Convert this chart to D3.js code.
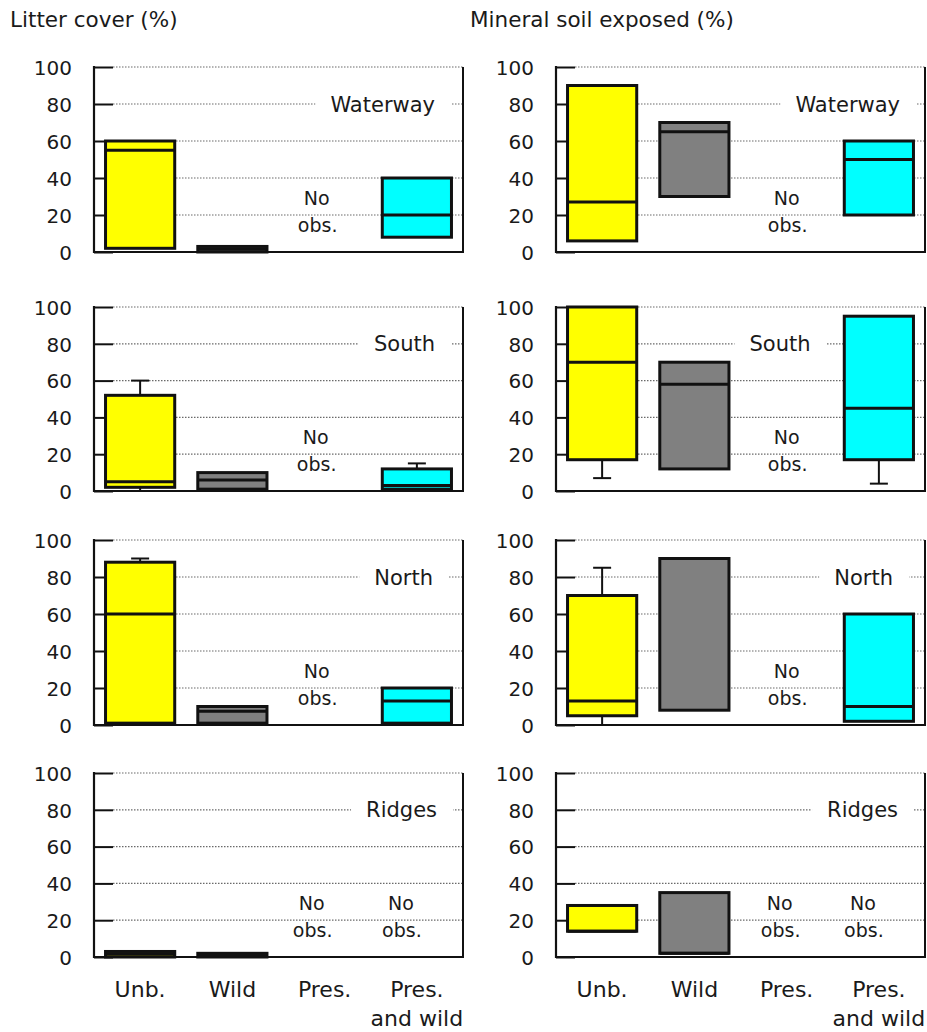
<!DOCTYPE html>
<html>
<head>
<meta charset="utf-8">
<script src="https://cdn.jsdelivr.net/npm/d3@7"></script>
<style>
  html, body { margin: 0; padding: 0; background: #fff; }
  svg { display: block; }
  text { font-family: "DejaVu Sans", sans-serif; fill: #1a1a1a; }
</style>
</head>
<body>
<svg id="chart" width="927" height="1032"></svg>
<script>
// ---------------- DATA ----------------
const categories = ["Unb.", "Wild", "Pres.", "Pres. and wild"];
const regions = ["Waterway", "South", "North", "Ridges"];
const measures = ["Litter cover (%)", "Mineral soil exposed (%)"];
const yTicks = [0, 20, 40, 60, 80, 100];
const seriesColors = ["#ffff00", "#808080", "#ffffff", "#00ffff"];

// rows = regions, columns = categories; null = no observations
const litterQ1     = [[2, 0, null, 8], [2, 1, null, 1], [1, 1, null, 1], [0, 0, null, null]];
const litterMedian = [[55, 1.5, null, 20], [5, 6, null, 3], [60, 7.5, null, 13], [1.5, 1, null, null]];
const litterQ3     = [[60, 3, null, 40], [52, 10, null, 12], [88, 10, null, 20], [3, 2, null, null]];
const litterMin    = [[null, null, null, null], [0, null, null, null], [null, null, null, null], [null, null, null, null]];
const litterMax    = [[null, null, null, null], [60, null, null, 15], [90, null, null, null], [null, null, null, null]];

const soilQ1     = [[6, 30, null, 20], [17, 12, null, 17], [5, 8, null, 2], [14, 2, null, null]];
const soilMedian = [[27, 65, null, 50], [70, 58, null, 45], [13, 90, null, 10], [14, 2, null, null]];
const soilQ3     = [[90, 70, null, 60], [100, 70, null, 95], [70, 90, null, 60], [28, 35, null, null]];
const soilMin    = [[null, null, null, null], [7, null, null, 4], [0, null, null, null], [null, null, null, null]];
const soilMax    = [[null, null, null, null], [null, null, null, null], [85, null, null, null], [null, null, null, null]];

// ---------------- LAYOUT ----------------
const colX = [94, 556];
const panelW = 369;
const rowY = [[67, 252], [307, 491], [540, 725], [773, 957]];
const stats = [
  { q1: litterQ1, med: litterMedian, q3: litterQ3, lo: litterMin, hi: litterMax },
  { q1: soilQ1, med: soilMedian, q3: soilQ3, lo: soilMin, hi: soilMax }
];
// region label placement per [column][row]
const labelPlace = [
  [{ a: "end", dx: -28 }, { a: "end", dx: -28 }, { a: "end", dx: -30 }, { a: "end", dx: -26 }],
  [{ a: "end", dx: -25 }, { a: "middle", x: 780 }, { a: "end", dx: -32 }, { a: "end", dx: -27 }]
];
// horizontal offsets of "No obs." text per column / row
const noObsDx = [[-8, -9, -8, -13, -16], [0, 0, 0, -7, -16]];

const svg = d3.select("#chart");

// column titles
measures.forEach((m, ci) => {
  svg.append("text")
    .attr("x", ci === 0 ? 10 : 470)
    .attr("y", 27)
    .attr("font-size", 21.5)
    .text(m);
});

measures.forEach((m, ci) => {
  const S = stats[ci];
  const x0 = colX[ci], x1 = x0 + panelW;
  regions.forEach((reg, ri) => {
    const g = svg.append("g");
    const y = d3.scaleLinear().domain([0, 100]).range([rowY[ri][1], rowY[ri][0]]);
    const xb = d3.scaleBand().domain(categories).range([x0, x1])
      .paddingInner(0.25).paddingOuter(0.125);
    const bw = xb.bandwidth();

    // dotted gridlines
    g.append("g").selectAll("line").data(yTicks.filter(t => t > 0)).join("line")
      .attr("x1", x0 + 19).attr("x2", x1)
      .attr("y1", d => y(d)).attr("y2", d => y(d))
      .attr("stroke", "#6a6a6a").attr("stroke-width", 1.2)
      .attr("stroke-dasharray", "1.5,1.5");

    // region label with white backing
    const lp = labelPlace[ci][ri];
    const lx = lp.x !== undefined ? lp.x : x1 + lp.dx;
    const lab = g.append("text")
      .attr("x", lx).attr("y", y(80))
      .attr("dy", "0.36em")
      .attr("text-anchor", lp.a)
      .attr("font-size", 21)
      .text(reg);
    const bb = lab.node().getBBox();
    g.insert("rect", "text")
      .attr("x", bb.x - 15).attr("y", bb.y - 2)
      .attr("width", bb.width + 31).attr("height", bb.height + 4)
      .attr("fill", "#fff");

    // right frame
    g.append("line").attr("x1", x1).attr("x2", x1)
      .attr("y1", y(100)).attr("y2", y(0))
      .attr("stroke", "#111").attr("stroke-width", 2);

    // left axis with tick labels
    const axL = g.append("g").attr("transform", `translate(${x0},0)`)
      .call(d3.axisLeft(y).tickValues(yTicks).tickSize(0).tickPadding(22));
    axL.select(".domain").remove();
    axL.selectAll("text").attr("font-size", 20).attr("font-family", "DejaVu Sans")
      .attr("fill", "#1a1a1a").attr("dy", "0.36em");

    // inward ticks
    const axT = g.append("g").attr("transform", `translate(${x0},0)`)
      .call(d3.axisRight(y).tickValues(yTicks).tickSize(19).tickFormat(""));
    axT.select(".domain").remove();
    axT.selectAll("line").attr("stroke", "#111").attr("stroke-width", 2);

    // left axis line and bottom axis line
    g.append("line").attr("x1", x0).attr("x2", x0)
      .attr("y1", y(100) - 1).attr("y2", y(0) + 1)
      .attr("stroke", "#111").attr("stroke-width", 2.2);
    g.append("line").attr("x1", x0).attr("x2", x1 + 1)
      .attr("y1", y(0)).attr("y2", y(0))
      .attr("stroke", "#111").attr("stroke-width", 2);

    // boxes
    categories.forEach((c, k) => {
      const q1 = S.q1[ri][k];
      const cx = xb(c) + bw / 2;
      if (q1 === null) {
        const nx = cx + noObsDx[ci][ri === 3 ? 3 + (k === 3 ? 1 : 0) : ri];
        g.append("text").attr("x", nx).attr("y", y(29)).attr("dy", "0.36em")
          .attr("text-anchor", "middle").attr("font-size", 19).text("No");
        g.append("text").attr("x", nx + 1).attr("y", y(29) + 27).attr("dy", "0.36em")
          .attr("text-anchor", "middle").attr("font-size", 19).text("obs.");
        return;
      }
      const q3 = S.q3[ri][k], med = S.med[ri][k];
      const lo = S.lo[ri][k], hi = S.hi[ri][k];
      if (hi !== null) {
        g.append("line").attr("x1", cx).attr("x2", cx).attr("y1", y(q3)).attr("y2", y(hi))
          .attr("stroke", "#111").attr("stroke-width", 2);
        g.append("line").attr("x1", cx - 9).attr("x2", cx + 9).attr("y1", y(hi)).attr("y2", y(hi))
          .attr("stroke", "#111").attr("stroke-width", 2);
      }
      if (lo !== null) {
        g.append("line").attr("x1", cx).attr("x2", cx).attr("y1", y(q1)).attr("y2", y(lo))
          .attr("stroke", "#111").attr("stroke-width", 2);
        g.append("line").attr("x1", cx - 9).attr("x2", cx + 9).attr("y1", y(lo)).attr("y2", y(lo))
          .attr("stroke", "#111").attr("stroke-width", 2);
      }
      g.append("rect")
        .attr("x", xb(c)).attr("y", y(q3))
        .attr("width", bw).attr("height", y(q1) - y(q3))
        .attr("fill", seriesColors[k])
        .attr("stroke", "#111").attr("stroke-width", 3);
      g.append("line")
        .attr("x1", xb(c)).attr("x2", xb(c) + bw)
        .attr("y1", y(med)).attr("y2", y(med))
        .attr("stroke", "#111").attr("stroke-width", 3);
    });

    // x category labels on last row
    if (ri === regions.length - 1) {
      categories.forEach(c => {
        const parts = c === "Pres. and wild" ? ["Pres.", "and wild"] : [c];
        const t = g.append("text").attr("text-anchor", "middle").attr("font-size", 22);
        parts.forEach((p, pi) => {
          t.append("tspan").attr("x", xb(c) + bw / 2).attr("y", 997 + pi * 29).text(p);
        });
      });
    }
  });
});
</script>
</body>
</html>
